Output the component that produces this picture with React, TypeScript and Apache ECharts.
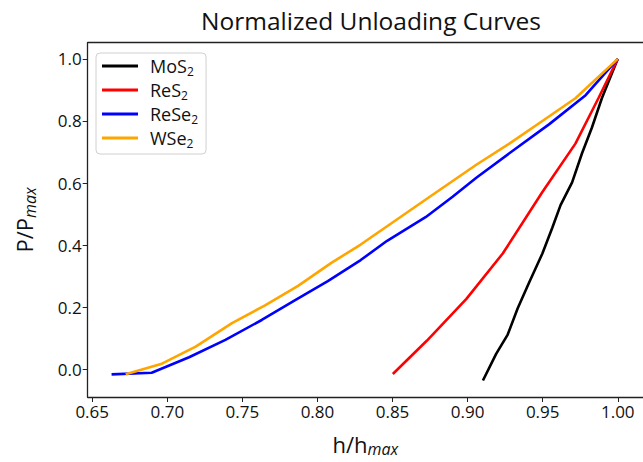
import React, { useEffect, useRef } from "react";
import * as echarts from "echarts";

const mos2X = [0.9102, 0.919, 0.9267, 0.9333, 0.9409, 0.9498, 0.9564, 0.9619, 0.9696, 0.9762, 0.9828, 0.9894, 1.0];
const mos2Y = [-0.036, 0.05, 0.112, 0.196, 0.279, 0.373, 0.456, 0.529, 0.602, 0.696, 0.779, 0.873, 1.0];

const res2X = [0.8502, 0.8728, 0.8992, 0.9234, 0.9498, 0.9718, 0.9871, 1.0];
const res2Y = [-0.015, 0.092, 0.227, 0.373, 0.571, 0.727, 0.873, 1.0];

const rese2X = [0.6629, 0.6896, 0.7145, 0.7387, 0.7629, 0.7849, 0.8069, 0.8288, 0.8464, 0.872, 0.89, 0.9058, 0.9278, 0.9542, 0.9786, 1.0];
const rese2Y = [-0.016, -0.011, 0.039, 0.095, 0.159, 0.222, 0.284, 0.352, 0.414, 0.49, 0.556, 0.617, 0.696, 0.789, 0.883, 1.0];

const wse2X = [0.6723, 0.6958, 0.7189, 0.7431, 0.7651, 0.7871, 0.809, 0.8288, 0.8464, 0.876, 0.9058, 0.9278, 0.9498, 0.9718, 1.0];
const wse2Y = [-0.016, 0.017, 0.073, 0.149, 0.206, 0.269, 0.342, 0.402, 0.461, 0.56, 0.659, 0.727, 0.8, 0.873, 1.0];

const names = ["MoS", "ReS", "ReSe", "WSe"];
const subs = ["2", "2", "2", "2"];
const colors = ["#000000", "#ff0000", "#0000ff", "#ffa500"];
const xTicks = [0.65, 0.7, 0.75, 0.8, 0.85, 0.9, 0.95, 1.0];
const yTicks = [0.0, 0.2, 0.4, 0.6, 0.8, 1.0];

const FONT = "Open Sans";

export default function App() {
  const ref = useRef<HTMLDivElement>(null);
  useEffect(() => {
    if (!ref.current) return;
    const chart = echarts.init(ref.current, null, { renderer: "svg" });
    const xs = [mos2X, res2X, rese2X, wse2X];
    const ys = [mos2Y, res2Y, rese2Y, wse2Y];
    const series = names.map((n, i) => ({
      name: n + subs[i],
      type: "line",
      data: xs[i].map((x, j) => [x, ys[i][j]]),
      showSymbol: false,
      symbol: "none",
      lineStyle: { color: colors[i], width: 2.6 },
      itemStyle: { color: colors[i] },
      z: 2 + i,
    }));
    const axisLine = { show: true, onZero: false, lineStyle: { color: "#222", width: 1.3 } };
    chart.setOption({
      animation: false,
      backgroundColor: "#fff",
      title: {
        text: "Normalized Unloading Curves",
        left: 366,
        textAlign: "center",
        top: 3,
        textStyle: { fontFamily: FONT, fontSize: 24.5, fontWeight: "normal", color: "#111" },
      },
      legend: {
        orient: "vertical",
        left: 96,
        top: 53,
        padding: [2, 8, 5, 6],
        itemGap: 2,
        itemWidth: 36,
        itemHeight: 3,
        icon: "rect",
        backgroundColor: "#fff",
        borderColor: "#d0d0d0",
        borderWidth: 1,
        borderRadius: 4,
        data: names.map((n, i) => n + subs[i]),
        formatter: (name: string) => {
          const i = names.findIndex((n, k) => n + subs[k] === name);
          return `{n|${names[i]}}{s|${subs[i]}}`;
        },
        textStyle: {
          fontFamily: FONT,
          fontSize: 18,
          color: "#111",
          padding: [0, 0, 0, 7],
          rich: {
            n: { fontFamily: FONT, fontSize: 18, color: "#111", lineHeight: 19 },
            s: { fontFamily: FONT, fontSize: 12, color: "#111", padding: [10, 0, 0, 0], lineHeight: 9 },
          },
        },
      },
      grid: { left: 87.7, right: -5, top: 42.7, bottom: 54.2, containLabel: false },
      xAxis: [
        {
          type: "value",
          min: 0.647,
          max: 1.0168,
          axisLine,
          axisTick: { show: true, customValues: xTicks, length: 5, lineStyle: { color: "#222" } },
          axisLabel: {
            customValues: xTicks,
            formatter: (v: number) => v.toFixed(2),
            fontFamily: FONT,
            fontSize: 17,
            color: "#111",
            margin: 6,
          },
          splitLine: { show: false },
          name: "{n|h/h}{s|max}",
          nameLocation: "middle",
          nameGap: 33,
          nameTextStyle: {
            rich: {
              n: { fontFamily: FONT, fontSize: 22, color: "#111" },
              s: { fontFamily: FONT, fontSize: 16, fontStyle: "italic", color: "#111", padding: [11, 0, 0, 0] },
            },
          },
        },
        {
          type: "value",
          position: "top",
          min: 0.647,
          max: 1.0168,
          axisLine,
          axisTick: { show: false },
          axisLabel: { show: false },
          splitLine: { show: false },
        },
      ],
      yAxis: {
        type: "value",
        min: -0.089,
        max: 1.052,
        axisLine,
        axisTick: { show: true, customValues: yTicks, length: 5, lineStyle: { color: "#222" } },
        axisLabel: {
          customValues: yTicks,
          formatter: (v: number) => v.toFixed(1),
          fontFamily: FONT,
          fontSize: 17,
          color: "#111",
          margin: 6,
        },
        splitLine: { show: false },
        name: "{n|P/P}{s|max}",
        nameLocation: "middle",
        nameGap: 50,
        nameRotate: 90,
        nameTextStyle: {
          rich: {
            n: { fontFamily: FONT, fontSize: 22, color: "#111" },
            s: { fontFamily: FONT, fontSize: 16, fontStyle: "italic", color: "#111", padding: [11, 0, 0, 0] },
          },
        },
      },
      series,
    });
    return () => chart.dispose();
  }, []);
  return <div ref={ref} style={{ width: 643, height: 462, position: "absolute", left: 0, top: 0 }} />;
}
